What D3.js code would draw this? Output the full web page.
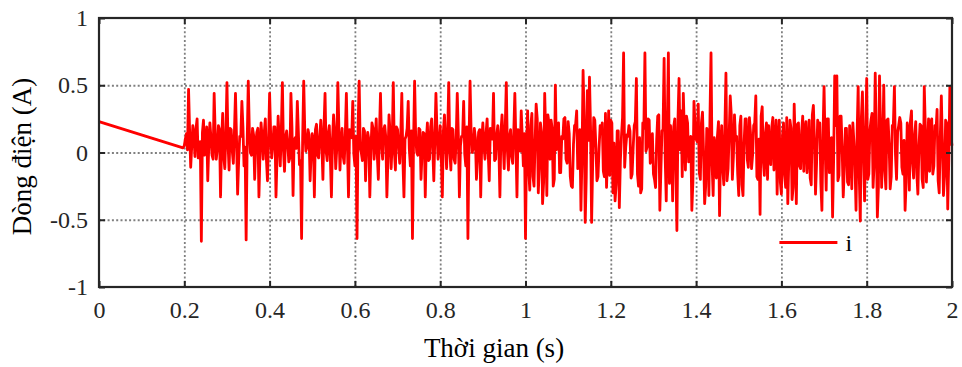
<!DOCTYPE html>
<html>
<head>
<meta charset="utf-8">
<script src="https://cdn.jsdelivr.net/npm/d3@7"></script>
<style>
  body { margin: 0; background: #fff; }
  svg { display: block; font-family: "Liberation Serif", "Times New Roman", serif; }
  .grid line { stroke: #7f7f7f; stroke-width: 1.8; stroke-dasharray: 2, 2.3; }
  .grid path { display: none; }
  .ax path { display: none; }
  .ax line { stroke: #262626; stroke-width: 2; }
</style>
</head>
<body>
<div id="chart"></div>
<script>
// axis ticks
const xTicks = [0, 0.2, 0.4, 0.6, 0.8, 1, 1.2, 1.4, 1.6, 1.8, 2];
const yTicks = [-1, -0.5, 0, 0.5, 1];

// start-up ramp before the converter switches on
const headTime = [0, 0.197];
const headCurrent = [0.23, 0.035];

// current samples from t = 0.2 s to 2.0 s, one every 5 ms
const sampleStart = 0.2;
const sampleStep = 0.005;
const current = [
  0.05, 0.14, 0.47, -0.11, 0.20, -0.03, 0.25, 0.02, -0.66, 0.24,
  0.04, -0.21, 0.22, -0.02, 0.44, -0.05, 0.20, -0.33, 0.29, -0.12,
  0.52, -0.13, 0.17, -0.08, 0.44, -0.31, 0.12, 0.38, -0.10, -0.65,
  0.53, 0.00, 0.18, -0.20, 0.15, -0.33, 0.22, -0.05, 0.25, -0.21,
  0.44, -0.04, 0.19, -0.33, 0.27, -0.10, 0.52, -0.14, 0.16, -0.07,
  0.44, -0.32, 0.11, 0.38, -0.09, -0.64, 0.53, 0.01, 0.17, -0.21,
  0.14, -0.33, 0.21, -0.04, 0.24, -0.20, 0.44, -0.06, 0.20, -0.33,
  0.28, -0.12, 0.52, -0.13, 0.18, -0.08, 0.44, -0.33, 0.12, 0.38,
  -0.10, -0.64, 0.53, 0.00, 0.18, -0.21, 0.15, -0.33, 0.22, -0.05,
  0.25, -0.20, 0.44, -0.05, 0.20, -0.33, 0.28, -0.12, 0.52, -0.13,
  0.17, -0.08, 0.44, -0.33, 0.12, 0.38, -0.10, -0.64, 0.53, 0.00,
  0.18, -0.20, 0.15, -0.33, 0.22, -0.05, 0.25, -0.21, 0.44, -0.05,
  0.20, -0.33, 0.28, -0.12, 0.52, -0.13, 0.17, -0.08, 0.44, -0.33,
  0.12, 0.38, -0.10, -0.64, 0.53, 0.00, 0.18, -0.20, 0.15, -0.33,
  0.22, -0.05, 0.25, -0.21, 0.10, 0.44, -0.05, 0.20, -0.33, 0.28,
  -0.12, 0.52, -0.13, 0.17, -0.08, 0.44, -0.33, 0.12, 0.31, -0.10,
  -0.64, 0.31, -0.28, 0.29, -0.25, 0.36, -0.30, 0.22, -0.38, 0.44,
  -0.32, 0.22, 0.24, -0.25, 0.50, 0.20, -0.15, 0.12, 0.25, -0.05,
  0.23, -0.18, -0.26, 0.20, 0.31, 0.10, -0.43, 0.61, -0.52, 0.46,
  0.56, -0.52, 0.26, 0.05, -0.18, 0.20, 0.22, -0.18, -0.26, 0.31,
  0.24, -0.30, -0.36, 0.16, -0.41, 0.12, 0.74, 0.04, 0.12, 0.16,
  -0.16, 0.20, 0.55, -0.25, -0.30, 0.22, 0.74, 0.04, 0.24, -0.05,
  -0.16, -0.26, 0.27, -0.43, 0.16, 0.70, -0.36, 0.74, 0.20, -0.36,
  0.25, -0.58, 0.55, 0.31, 0.44, -0.13, 0.22, 0.05, -0.43, 0.38,
  0.10, 0.36, -0.20, 0.30, -0.38, 0.18, -0.32, 0.74, -0.32, 0.05,
  0.12, -0.47, 0.20, -0.24, 0.59, -0.12, 0.42, -0.20, 0.28, 0.12,
  -0.32, 0.27, -0.32, 0.25, -0.05, 0.26, -0.12, 0.20, 0.42, -0.20,
  -0.46, 0.34, -0.17, 0.22, 0.20, -0.09, 0.26, 0.05, -0.31, 0.24,
  -0.31, 0.22, -0.26, -0.38, 0.24, -0.35, 0.36, -0.38, 0.22, -0.12,
  0.27, 0.16, -0.15, 0.24, -0.24, 0.35, -0.31, 0.24, 0.22, -0.43,
  0.49, -0.28, 0.25, 0.10, -0.48, 0.57, 0.57, -0.17, 0.27, -0.33,
  0.18, -0.22, 0.20, -0.27, 0.08, -0.43, 0.49, -0.51, 0.45, -0.36,
  0.55, -0.16, 0.24, -0.26, 0.59, -0.48, 0.57, -0.26, 0.50, -0.27,
  0.25, -0.27, 0.20, 0.49, -0.20, 0.20, 0.22, -0.16, -0.43, 0.22,
  -0.28, 0.31, -0.19, 0.23, -0.31, 0.21, -0.20, 0.49, -0.22, 0.25,
  0.22, -0.16, 0.20, 0.32, -0.30, 0.42, -0.32, 0.24, -0.42, 0.49,
  0.05
];

// in-between samples (half a step after each sample above), the dense ripple band
const currentMid = [
  0.10, 0.02, 0.16, 0.05, 0.12, 0.18, -0.04, 0.08, 0.15, -0.02,
  0.19, 0.06, 0.11, -0.05, 0.14, 0.03, 0.17, 0.09, -0.03, 0.13,
  0.07, 0.18, 0.01, 0.15, 0.10, -0.06, 0.12, 0.19, 0.04, 0.09,
  0.16, -0.02, 0.13, 0.06, 0.18, 0.00, 0.11, 0.15, -0.05, 0.08,
  0.14, 0.05, 0.19, -0.03, 0.10, 0.17, 0.02, 0.12, 0.07, -0.04,
  0.18, 0.09, 0.03, 0.15, -0.06, 0.11, 0.16, 0.04, 0.13, 0.00,
  0.09, 0.17, -0.02, 0.12, 0.06, 0.19, 0.01, 0.14, -0.05, 0.10,
  0.15, 0.03, 0.18, 0.08, -0.03, 0.13, 0.05, 0.17, 0.11, -0.01,
  0.12, 0.19, 0.04, -0.06, 0.16, 0.07, 0.10, 0.02, 0.18, 0.09,
  -0.02, 0.14, 0.06, 0.17, 0.11, -0.04, 0.15, 0.08, 0.01, 0.19,
  0.05, 0.13, -0.05, 0.10, 0.18, 0.03, 0.16, 0.07, 0.12, -0.02,
  0.17, 0.00, 0.14, 0.09, -0.06, 0.19, 0.04, 0.11, 0.15, 0.06,
  -0.03, 0.16, 0.08, 0.13, 0.02, 0.18, -0.05, 0.10, 0.14, 0.05,
  0.12, -0.01, 0.19, 0.07, 0.15, 0.03, 0.11, -0.04, 0.17, 0.09,
  0.06, 0.14, 0.00, 0.18, 0.10, -0.06, 0.13, 0.04, 0.16, 0.08,
  0.19, 0.02, 0.12, -0.03, 0.15, 0.07, 0.17, 0.01, 0.11, 0.14,
  0.05, -0.12, 0.20, -0.18, 0.08, 0.25, -0.10, 0.15, -0.22, 0.12,
  0.28, -0.05, 0.18, -0.20, 0.02, 0.22, -0.15, 0.10, 0.26, -0.08,
  0.14, -0.25, 0.06, 0.21, -0.12, 0.17, -0.02, 0.27, -0.18, 0.09,
  0.19, -0.09, 0.24, -0.21, 0.03, 0.15, -0.14, 0.29, 0.00, -0.17,
  0.22, 0.07, -0.24, 0.16, -0.06, 0.26, -0.11, 0.13, 0.20, -0.19,
  0.04, 0.23, -0.16, 0.11, -0.27, 0.18, 0.01, 0.25, -0.08, 0.14,
  -0.20, 0.09, 0.28, -0.13, 0.17, -0.04, 0.21, -0.23, 0.06, 0.19,
  -0.10, 0.24, 0.02, -0.18, 0.15, 0.27, -0.07, 0.12, -0.22, 0.20,
  0.08, -0.15, 0.22, 0.00, -0.25, 0.16, 0.26, -0.09, 0.11, -0.19,
  0.23, 0.05, -0.12, 0.18, -0.21, 0.13, 0.28, -0.03, 0.09, -0.16,
  0.20, -0.24, 0.07, 0.25, -0.11, 0.15, -0.02, 0.22, -0.18, 0.10,
  0.27, -0.06, 0.14, -0.20, 0.03, 0.19, -0.13, 0.24, 0.08, -0.22,
  0.12, -0.17, 0.26, -0.04, 0.18, -0.26, 0.06, 0.21, -0.10, 0.16,
  -0.14, 0.23, 0.01, -0.19, 0.28, 0.09, -0.08, 0.17, -0.23, 0.13,
  0.05, 0.25, -0.15, 0.11, -0.05, 0.20, -0.21, 0.27, 0.02, -0.12,
  0.18, -0.24, 0.08, 0.22, -0.09, 0.14, -0.17, 0.26, -0.01, 0.10,
  -0.20, 0.16, 0.29, -0.07, 0.12, -0.25, 0.19, 0.03, -0.13, 0.24,
  0.07, -0.18, 0.21, -0.02, 0.15, 0.26, -0.11, 0.09, -0.22, 0.17,
  0.23, -0.08, 0.13, -0.16, 0.04, 0.20, -0.26, 0.18, 0.00, -0.14,
  0.25, -0.10, 0.16, -0.21, 0.11, 0.06, -0.18, 0.22, -0.05, 0.12
];

const serif = '"Liberation Serif", "Times New Roman", serif';
const width = 962, height = 367;
const margin = { top: 18, right: 10, bottom: 80, left: 99 };
const w = width - margin.left - margin.right;
const h = height - margin.top - margin.bottom;

const svg = d3.select("#chart").append("svg")
  .attr("width", width)
  .attr("height", height);

const g = svg.append("g")
  .attr("transform", "translate(" + margin.left + "," + margin.top + ")");

const x = d3.scaleLinear().domain([0, 2]).range([0, w]);
const y = d3.scaleLinear().domain([-1, 1]).range([h, 0]);

// dotted grid, inner lines only
g.append("g").attr("class", "grid")
  .attr("transform", "translate(0," + h + ")")
  .call(d3.axisBottom(x).tickValues(xTicks.slice(1, -1)).tickSize(-h).tickFormat(""));
g.append("g").attr("class", "grid")
  .call(d3.axisLeft(y).tickValues(yTicks.slice(1, -1)).tickSize(-w).tickFormat(""));

// build the points: ramp, then samples with their in-between values
const points = headTime.map((t, i) => [t, headCurrent[i]]);
current.forEach((v, i) => {
  const t = sampleStart + i * sampleStep;
  points.push([t, v]);
  if (i < currentMid.length) points.push([t + sampleStep / 2, currentMid[i]]);
});

const line = d3.line()
  .x(d => x(d[0]))
  .y(d => y(d[1]));

g.append("path")
  .datum(points)
  .attr("fill", "none")
  .attr("stroke", "#ff0000")
  .attr("stroke-width", 2.8)
  .attr("stroke-linejoin", "round")
  .attr("d", line);

// inward ticks on all four sides
const fmt = d => String(d);
const xAxis = g.append("g").attr("class", "ax")
  .attr("transform", "translate(0," + h + ")")
  .call(d3.axisBottom(x).tickValues(xTicks).tickSize(-6).tickPadding(14).tickFormat(fmt));
g.append("g").attr("class", "ax")
  .call(d3.axisTop(x).tickValues(xTicks).tickSize(-6).tickFormat(""));
const yAxis = g.append("g").attr("class", "ax")
  .call(d3.axisLeft(y).tickValues(yTicks).tickSize(-6).tickPadding(11).tickFormat(fmt));
g.append("g").attr("class", "ax")
  .attr("transform", "translate(" + w + ",0)")
  .call(d3.axisRight(y).tickValues(yTicks).tickSize(-6).tickFormat(""));

[xAxis, yAxis].forEach(a => a.attr("font-family", null).attr("font-size", null)
  .selectAll("text")
    .attr("fill", "#262626")
    .style("font-family", serif)
    .style("font-size", "24px"));

// frame
g.append("rect")
  .attr("width", w)
  .attr("height", h)
  .attr("fill", "none")
  .attr("stroke", "#262626")
  .attr("stroke-width", 2.2);

// legend
const legend = g.append("g")
  .attr("transform", "translate(" + (x(1.6) - 2) + "," + y(-0.67) + ")");
legend.append("line")
  .attr("x1", 0).attr("x2", 58)
  .attr("stroke", "#ff0000")
  .attr("stroke-width", 3);
legend.append("text")
  .attr("x", 66).attr("y", 8)
  .style("font-size", "24px")
  .text("i");

// axis titles
svg.append("text")
  .attr("x", 494).attr("y", 357)
  .attr("text-anchor", "middle")
  .style("font-size", "27px")
  .text("Thời gian (s)");

svg.append("text")
  .attr("transform", "translate(31," + (margin.top + h / 2 + 4) + ") rotate(-90)")
  .attr("text-anchor", "middle")
  .style("font-size", "27px")
  .text("Dòng điện (A)");
</script>
</body>
</html>
